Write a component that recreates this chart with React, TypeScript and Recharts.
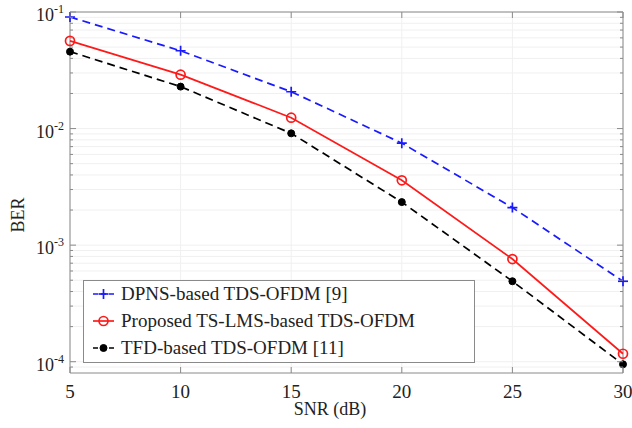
import React from "react";
import { LineChart, Line, XAxis, YAxis, CartesianGrid, ReferenceArea } from "recharts";

// SNR points (dB)
const snr = [5, 10, 15, 20, 25, 30];

// BER values
const dpnsBer = [0.0906, 0.0465, 0.0207, 0.0075, 0.0021, 0.00049];
const proposedBer = [0.0565, 0.029, 0.0124, 0.0036, 0.00076, 0.000117];
const tfdBer = [0.0457, 0.0229, 0.0091, 0.00234, 0.00049, 0.000095];

const xTicks = [5, 10, 15, 20, 25, 30];
const majorY = [1e-4, 1e-3, 1e-2, 1e-1];
const minorY = [
	9e-5,
	2e-4, 3e-4, 4e-4, 5e-4, 6e-4, 7e-4, 8e-4, 9e-4,
	2e-3, 3e-3, 4e-3, 5e-3, 6e-3, 7e-3, 8e-3, 9e-3,
	2e-2, 3e-2, 4e-2, 5e-2, 6e-2, 7e-2, 8e-2, 9e-2,
];
const yTicks = [...majorY, ...minorY].sort((a, b) => a - b);

const data = snr.map((s, i) => ({
	snr: s,
	dpns: dpnsBer[i],
	proposed: proposedBer[i],
	tfd: tfdBer[i],
}));

const W = 632;
const H = 428;
const LEFT = 70;
const RIGHT = 623;
const TOP = 12;
const BOTTOM = 373;
const FONT = "'Liberation Serif', 'Times New Roman', serif";
const AXIS = "#8a8a8a";

const isMajor = (v: number) => majorY.some((m) => Math.abs(m - v) / m < 1e-6);

const YTick = (props: any) => {
	const { y, payload } = props;
	const v = payload.value;
	const major = isMajor(v);
	const len = major ? 6 : 3;
	const exp = Math.round(Math.log10(v));
	return (
		<g>
			<line x1={LEFT} x2={LEFT + len} y1={y} y2={y} stroke={AXIS} />
			<line x1={RIGHT} x2={RIGHT - len} y1={y} y2={y} stroke={AXIS} />
			{major && (
				<text x={LEFT - 6} y={y + 9} textAnchor="end" fontFamily={FONT} fill="#222">
					<tspan fontSize={18}>10</tspan>
					<tspan fontSize={12} dy={-8}>{exp}</tspan>
				</text>
			)}
		</g>
	);
};

const XTick = (props: any) => {
	const { x, payload } = props;
	return (
		<g>
			<line x1={x} x2={x} y1={BOTTOM} y2={BOTTOM - 6} stroke={AXIS} />
			<line x1={x} x2={x} y1={TOP} y2={TOP + 6} stroke={AXIS} />
			<text x={x} y={BOTTOM + 25} textAnchor="middle" fontFamily={FONT} fontSize={19} fill="#222">
				{payload.value}
			</text>
		</g>
	);
};

const PlusDot = (props: any) => {
	const { cx, cy } = props;
	if (cx == null || cy == null) return null;
	return (
		<g>
			<line x1={cx - 5} x2={cx + 5} y1={cy} y2={cy} stroke="#1a1aff" strokeWidth={1.7} />
			<line x1={cx} x2={cx} y1={cy - 5} y2={cy + 5} stroke="#1a1aff" strokeWidth={1.7} />
		</g>
	);
};

const CircleDot = (props: any) => {
	const { cx, cy } = props;
	if (cx == null || cy == null) return null;
	return <circle cx={cx} cy={cy} r={4.5} fill="none" stroke="#ff1a1a" strokeWidth={1.7} />;
};

const BlackDot = (props: any) => {
	const { cx, cy } = props;
	if (cx == null || cy == null) return null;
	return <circle cx={cx} cy={cy} r={3.5} fill="#000" stroke="#000" />;
};

const legendItems = [
	{ label: "DPNS-based TDS-OFDM [9]", color: "#1a1aff", dash: "5 3", marker: "plus" },
	{ label: "Proposed TS-LMS-based TDS-OFDM", color: "#ff1a1a", dash: undefined, marker: "circle" },
	{ label: "TFD-based TDS-OFDM [11]", color: "#000", dash: "5 3", marker: "dot" },
];

const LegendBox = () => (
	<svg width={393} height={84} style={{ position: "absolute", left: 83, top: 280, overflow: "visible" }}>
		<rect x={0.5} y={0.5} width={391} height={82} fill="#fff" stroke={AXIS} />
		{legendItems.map((it, i) => {
			const cy = 14 + i * 27;
			return (
				<g key={it.label}>
					<line x1={10} x2={31} y1={cy} y2={cy} stroke={it.color} strokeWidth={1.7} strokeDasharray={it.dash} />
					{it.marker === "plus" && <PlusDot cx={20.5} cy={cy} />}
					{it.marker === "circle" && <CircleDot cx={20.5} cy={cy} />}
					{it.marker === "dot" && <BlackDot cx={20.5} cy={cy} />}
					<text x={38} y={cy + 6} fontFamily={FONT} fontSize={19} fill="#222">
						{it.label}
					</text>
				</g>
			);
		})}
	</svg>
);

export default function App() {
	return (
		<div style={{ position: "absolute", left: 0, top: 0, width: W, height: H, background: "#fff" }}>
			<LineChart width={W} height={H} data={data} margin={{ top: TOP, right: W - RIGHT, bottom: 0, left: 0 }}>
				<CartesianGrid stroke="#f0f0f0" horizontalValues={yTicks} verticalValues={xTicks} />
				<XAxis
					dataKey="snr"
					type="number"
					domain={[5, 30]}
					ticks={xTicks}
					height={H - BOTTOM}
					axisLine={false}
					tickLine={false}
					tick={<XTick />}
					interval={0}
				/>
				<YAxis
					type="number"
					scale="log"
					domain={[8e-5, 0.1]}
					allowDataOverflow
					ticks={yTicks}
					width={LEFT}
					axisLine={false}
					tickLine={false}
					tick={<YTick />}
					interval={0}
				/>
				<ReferenceArea x1={5} x2={30} y1={8e-5} y2={0.1} fill="none" stroke={AXIS} strokeOpacity={1} ifOverflow="visible" />
				<Line type="linear" dataKey="dpns" stroke="#1a1aff" strokeWidth={1.7} strokeDasharray="8 5" dot={<PlusDot />} isAnimationActive={false} />
				<Line type="linear" dataKey="proposed" stroke="#ff1a1a" strokeWidth={1.7} dot={<CircleDot />} isAnimationActive={false} />
				<Line type="linear" dataKey="tfd" stroke="#000" strokeWidth={1.7} strokeDasharray="8 5" dot={<BlackDot />} isAnimationActive={false} />
			</LineChart>
			<LegendBox />
			<div style={{ position: "absolute", left: 0, top: 399, width: W, textAlign: "center", paddingLeft: 28, boxSizing: "border-box", fontFamily: FONT, fontSize: 18, color: "#222" }}>
				SNR (dB)
			</div>
			<div style={{ position: "absolute", left: 18, top: 215, transform: "translate(-50%, -50%) rotate(-90deg)", fontFamily: FONT, fontSize: 18, color: "#222" }}>
				BER
			</div>
		</div>
	);
}
